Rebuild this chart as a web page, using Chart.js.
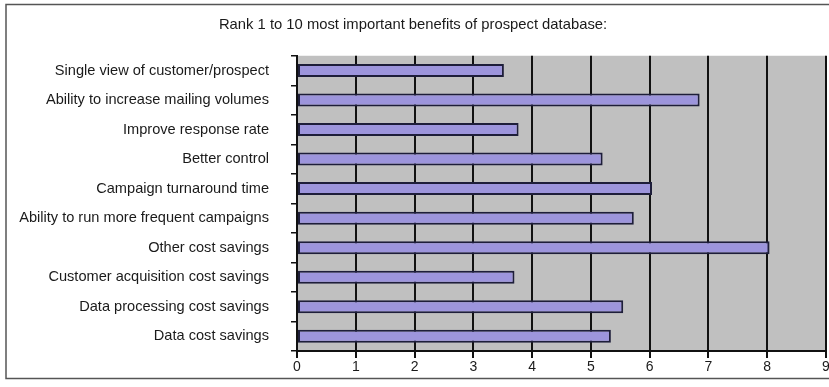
<!DOCTYPE html>
<html>
<head>
<meta charset="utf-8">
<script src="https://cdn.jsdelivr.net/npm/chart.js@4"></script>
<style>
  html, body { margin: 0; padding: 0; background: #fff; }
  #wrap { width: 829px; height: 387px; }
</style>
</head>
<body>
<div id="wrap"><canvas id="c" width="829" height="387"></canvas></div>
<script>
const chartTitle = "Rank 1 to 10 most important benefits of prospect database:";
const categories = [
  "Single view of customer/prospect",
  "Ability to increase mailing volumes",
  "Improve response rate",
  "Better control",
  "Campaign turnaround time",
  "Ability to run more frequent campaigns",
  "Other cost savings",
  "Customer acquisition cost savings",
  "Data processing cost savings",
  "Data cost savings"
];
const scores = [3.52, 6.85, 3.77, 5.2, 6.04, 5.73, 8.04, 3.7, 5.55, 5.34];
const xTicks = [0, 1, 2, 3, 4, 5, 6, 7, 8, 9];

const frameAndBg = {
  id: 'frameAndBg',
  beforeDraw(chart) {
    const ctx = chart.ctx;
    const a = chart.chartArea;
    ctx.save();
    ctx.fillStyle = '#ffffff';
    ctx.fillRect(0, 0, chart.width, chart.height);
    ctx.strokeStyle = '#555555';
    ctx.lineWidth = 1.5;
    ctx.strokeRect(6, 4.5, chart.width + 10, 374);
    ctx.fillStyle = '#c0c0c0';
    ctx.fillRect(a.left, a.top, a.right - a.left, a.bottom - a.top);
    ctx.restore();
  }
};

new Chart(document.getElementById('c'), {
  type: 'bar',
  data: {
    labels: categories,
    datasets: [{
      data: scores,
      backgroundColor: '#9d95dc',
      borderColor: '#1e1e3a',
      borderWidth: 2,
      borderSkipped: false,
      categoryPercentage: 1,
      barPercentage: 0.44
    }]
  },
  options: {
    indexAxis: 'y',
    responsive: false,
    animation: false,
    layout: { padding: { left: 0, right: 3, top: 0, bottom: 0 } },
    plugins: {
      legend: { display: false },
      tooltip: { enabled: false },
      title: {
        display: true,
        text: chartTitle,
        color: '#1a1a1a',
        font: { family: 'Liberation Sans', size: 14.8, weight: 'normal' },
        padding: { top: 16, bottom: 22 }
      }
    },
    scales: {
      x: {
        type: 'linear',
        min: 0,
        max: 9,
        afterBuildTicks(s) { s.ticks = xTicks.map(v => ({ value: v })); },
        afterFit(s) { s.paddingRight = 0; s.paddingLeft = 0; s.height = 36; },
        ticks: {
          color: '#1a1a1a',
          font: { family: 'Liberation Sans', size: 14 },
          padding: 1,
          maxRotation: 0
        },
        grid: {
          color: '#111111',
          lineWidth: 2,
          tickLength: 7,
          drawOnChartArea: true
        },
        border: { color: '#111111', width: 2 }
      },
      y: {
        afterFit(s) { s.width = 297; },
        ticks: {
          color: '#1a1a1a',
          font: { family: 'Liberation Sans', size: 14.6 },
          padding: 22
        },
        grid: {
          offset: true,
          drawOnChartArea: false,
          color: '#111111',
          lineWidth: 1.5,
          tickLength: 6
        },
        border: { color: '#111111', width: 2 }
      }
    }
  },
  plugins: [frameAndBg]
});
</script>
</body>
</html>
